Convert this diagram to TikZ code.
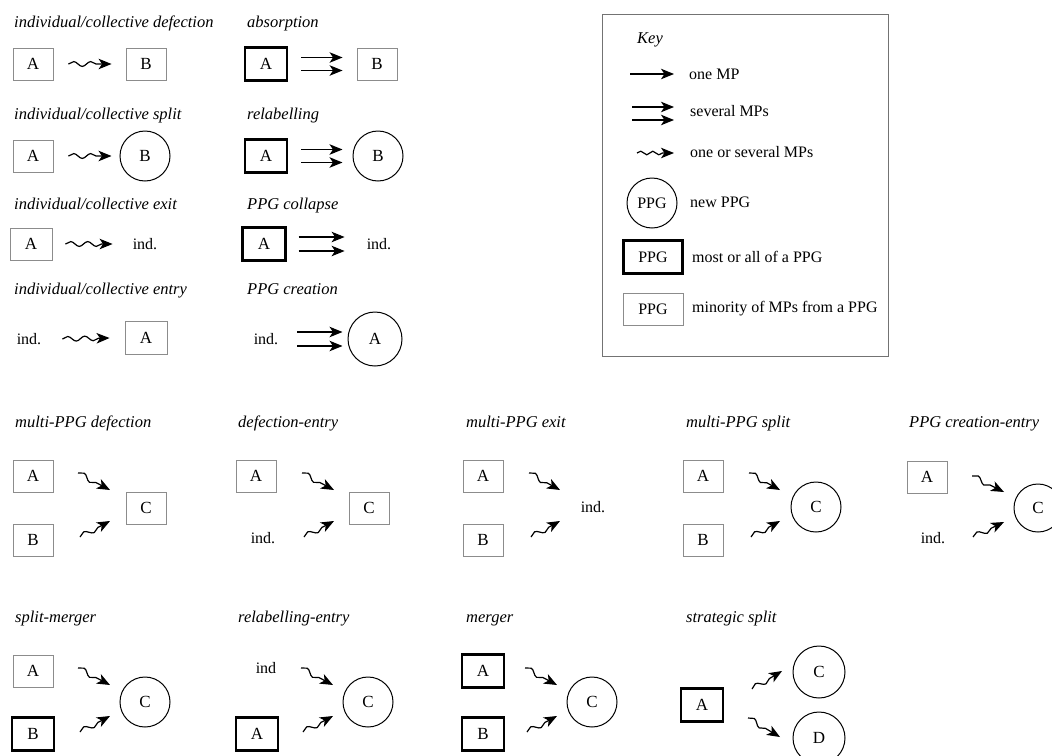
\documentclass[tikz,border=0pt]{standalone}
\usepackage{fontspec}
\setmainfont{Liberation Serif}
\usetikzlibrary{arrows.meta,decorations.pathmorphing,calc}
\begin{document}
\begin{tikzpicture}[x=1pt,y=-1pt,
  font=\fontsize{16}{19}\selectfont,
  lab/.style={anchor=base west, inner sep=0pt, font=\fontsize{16.5}{19}\selectfont\itshape},
  txt/.style={inner sep=0pt},
  pbox/.style={draw=black!45, line width=0.9pt, minimum width=40pt, minimum height=32pt, inner sep=0pt, font=\fontsize{17}{19}\selectfont},
  tbox/.style={draw=black, line width=2.3pt, minimum width=42pt, minimum height=33pt, inner sep=0pt, font=\fontsize{17}{19}\selectfont},
  circ/.style={circle, draw=black, line width=1pt, minimum size=50pt, inner sep=0pt, font=\fontsize{17}{19}\selectfont},
  tip/.style={-{Stealth[length=13pt,width=10.5pt,inset=3.5pt]}},
  one/.style={tip, line width=1.2pt},
  wv/.style={tip, line width=1.2pt, decorate,
    decoration={snake, amplitude=2.4pt, segment length=17pt, post length=11pt}},
  dwv/.style={tip, line width=1.2pt, decorate,
    decoration={snake, amplitude=2.8pt, segment length=18pt, post length=11pt}}
]
\useasboundingbox (0,0) rectangle (1052,755);

% ---------- row 1
\node[lab] (l11) at (14,27) {individual/collective defection};
\node[pbox] (r1a) at (33,64) {A};
\node[pbox] (r1b) at (146,64) {B};
\draw[wv] ($(r1a.east)+(15,0)$) -- ($(r1b.west)+(-14,0)$);

\node[lab] (l12) at (247,27) {absorption};
\node[tbox] (s1a) at (266,64) {A};
\node[pbox] (s1b) at (377,64) {B};
\draw[one] ($(s1a.east)+(13,-6.5)$) -- ($(s1b.west)+(-14,-6.5)$);
\draw[one] ($(s1a.east)+(13,6.5)$) -- ($(s1b.west)+(-14,6.5)$);

% ---------- row 2
\node[lab] (l21) at (14,119) {individual/collective split};
\node[pbox] (r2a) at (33,156) {A};
\node[circ] (r2b) at (145,156) {B};
\draw[wv] ($(r2a.east)+(15,0)$) -- ($(r2b.west)+(-8,0)$);

\node[lab] (l22) at (247,119) {relabelling};
\node[tbox] (s2a) at (266,156) {A};
\node[circ] (s2b) at (378,156) {B};
\draw[one] ($(s2a.east)+(13,-6.5)$) -- ($(s2b.west)+(-10,-6.5)$);
\draw[one] ($(s2a.east)+(13,6.5)$) -- ($(s2b.west)+(-10,6.5)$);

% ---------- row 3
\node[lab] (l31) at (14,209) {individual/collective exit};
\node[pbox, minimum width=42pt] (r3a) at (31,244) {A};
\node[txt] (r3b) at (145,244) {ind.};
\draw[wv] ($(r3a.east)+(13,0)$) -- ($(r3b.west)+(-20,0)$);

\node[lab] (l32) at (247,209) {PPG collapse};
\node[tbox, minimum width=43pt] (s3a) at (264,244) {A};
\node[txt] (s3b) at (379,244) {ind.};
\draw[one] ($(s3a.east)+(12,-7)$) -- ($(s3b.west)+(-22,-7)$);
\draw[one] ($(s3a.east)+(12,7)$) -- ($(s3b.west)+(-22,7)$);

% ---------- row 4
\node[lab] (l41) at (14,294) {individual/collective entry};
\node[txt] (r4a) at (29,339) {ind.};
\node[pbox, minimum width=42pt, minimum height=33pt] (r4b) at (146,338) {A};
\draw[wv] ($(r4a.east)+(21,0)$) -- ($(r4b.west)+(-15,0)$);

\node[lab] (l42) at (247,294) {PPG creation};
\node[txt] (s4a) at (266,339) {ind.};
\node[circ, minimum size=54pt] (s4b) at (375,339) {A};
\draw[one] ($(s4a.east)+(19,-7)$) -- ($(s4b.west)+(-5,-7)$);
\draw[one] ($(s4a.east)+(19,7)$) -- ($(s4b.west)+(-5,7)$);

% ---------- key
\node[draw=black!55, line width=1pt, minimum width=286pt, minimum height=342pt, anchor=north west, inner sep=0pt] (key) at (602,14) {};
\node[lab] (keyt) at (637,43) {Key};
\coordinate (k1s) at (630,74);
\node[txt, anchor=west] (k1) at (689,74) {one MP};
\draw[one] (k1s) -- ($(k1.west)+(-15,0)$);
\coordinate (k2s) at (632,107);
\coordinate (k2t) at (632,120);
\node[txt, anchor=west] (k2) at (690,111) {several MPs};
\draw[one] (k2s) -- ($(k2.west)+(-16,-4)$);
\draw[one] (k2t) -- ($(k2.west)+(-16,9)$);
\coordinate (k3s) at (637,153);
\node[txt, anchor=west] (k3) at (690,152) {one or several MPs};
\draw[wv, decoration={snake, amplitude=1.8pt, segment length=12pt, post length=11pt}] (k3s) -- ($(k3.west)+(-16,1)$);
\node[circ, font=\fontsize{16}{19}\selectfont] (k4c) at (652,203) {PPG};
\node[txt, anchor=west] (k4) at (690,202) {new PPG};
\node[tbox, minimum width=59pt, font=\fontsize{16}{19}\selectfont] (k5b) at (653,257) {PPG};
\node[txt, anchor=west] (k5) at (692,257) {most or all of a PPG};
\node[pbox, minimum width=60pt, font=\fontsize{16}{19}\selectfont] (k6b) at (653,309) {PPG};
\node[txt, anchor=west] (k6) at (692,309) {minority of MPs from a PPG};

% ---------- row 5
\node[lab] (l51) at (15,427) {multi-PPG defection};
\node[pbox] (m1a) at (33,476) {A};
\node[pbox] (m1b) at (33,540) {B};
\node[pbox] (m1c) at (146,508) {C};
\draw[dwv] ($(m1a)+(45,-3)$) -- ($(m1a)+(77,14)$);
\draw[dwv] ($(m1a)+(47,61)$) -- ($(m1a)+(77,45)$);

\node[lab] (l52) at (238,427) {defection-entry};
\node[pbox] (m2a) at (256,476) {A};
\node[txt] (m2b) at (263,538) {ind.};
\node[pbox] (m2c) at (369,508) {C};
\draw[dwv] ($(m2a)+(46,-3)$) -- ($(m2a)+(78,14)$);
\draw[dwv] ($(m2a)+(48,61)$) -- ($(m2a)+(78,45)$);

\node[lab] (l53) at (466,427) {multi-PPG exit};
\node[pbox] (m3a) at (483,476) {A};
\node[pbox] (m3b) at (483,540) {B};
\node[txt] (m3c) at (593,507) {ind.};
\draw[dwv] ($(m3a)+(46,-3)$) -- ($(m3a)+(77,14)$);
\draw[dwv] ($(m3a)+(48,61)$) -- ($(m3a)+(77,45)$);

\node[lab] (l54) at (686,427) {multi-PPG split};
\node[pbox] (m4a) at (703,476) {A};
\node[pbox] (m4b) at (703,540) {B};
\node[circ] (m4c) at (816,507) {C};
\draw[dwv] ($(m4a)+(46,-3)$) -- ($(m4a)+(77,14)$);
\draw[dwv] ($(m4a)+(48,61)$) -- ($(m4a)+(77,45)$);

\node[lab] (l55) at (909,427) {PPG creation-entry};
\node[pbox] (m5a) at (927,477) {A};
\node[txt] (m5b) at (933,538) {ind.};
\node[circ, minimum size=48pt] (m5c) at (1038,508) {C};
\draw[dwv] ($(m5a)+(45,-1)$) -- ($(m5a)+(77,15)$);
\draw[dwv] ($(m5a)+(46,60)$) -- ($(m5a)+(77,45)$);

% ---------- row 6
\node[lab] (l61) at (15,622) {split-merger};
\node[pbox] (n1a) at (33,671) {A};
\node[tbox] (n1b) at (33,734) {B};
\node[circ] (n1c) at (145,702) {C};
\draw[dwv] ($(n1c)+(-67,-34)$) -- ($(n1c)+(-35,-17)$);
\draw[dwv] ($(n1c)+(-65,30)$) -- ($(n1c)+(-35,14)$);

\node[lab] (l62) at (238,622) {relabelling-entry};
\node[txt] (n2a) at (266,668) {ind};
\node[tbox] (n2b) at (257,734) {A};
\node[circ] (n2c) at (368,702) {C};
\draw[dwv] ($(n2c)+(-67,-34)$) -- ($(n2c)+(-35,-17)$);
\draw[dwv] ($(n2c)+(-65,30)$) -- ($(n2c)+(-35,14)$);

\node[lab] (l63) at (466,622) {merger};
\node[tbox] (n3a) at (483,671) {A};
\node[tbox] (n3b) at (483,734) {B};
\node[circ] (n3c) at (592,702) {C};
\draw[dwv] ($(n3c)+(-67,-34)$) -- ($(n3c)+(-35,-17)$);
\draw[dwv] ($(n3c)+(-65,30)$) -- ($(n3c)+(-35,14)$);

\node[lab] (l64) at (686,622) {strategic split};
\node[tbox] (n4a) at (702,705) {A};
\node[circ, minimum size=52pt] (n4c) at (819,672) {C};
\node[circ, minimum size=52pt] (n4d) at (819,738) {D};
\draw[dwv] ($(n4a)+(50,-16)$) -- ($(n4a)+(80,-34)$);
\draw[dwv] ($(n4a)+(46,13)$) -- ($(n4a)+(78,32)$);
\end{tikzpicture}
\end{document}
